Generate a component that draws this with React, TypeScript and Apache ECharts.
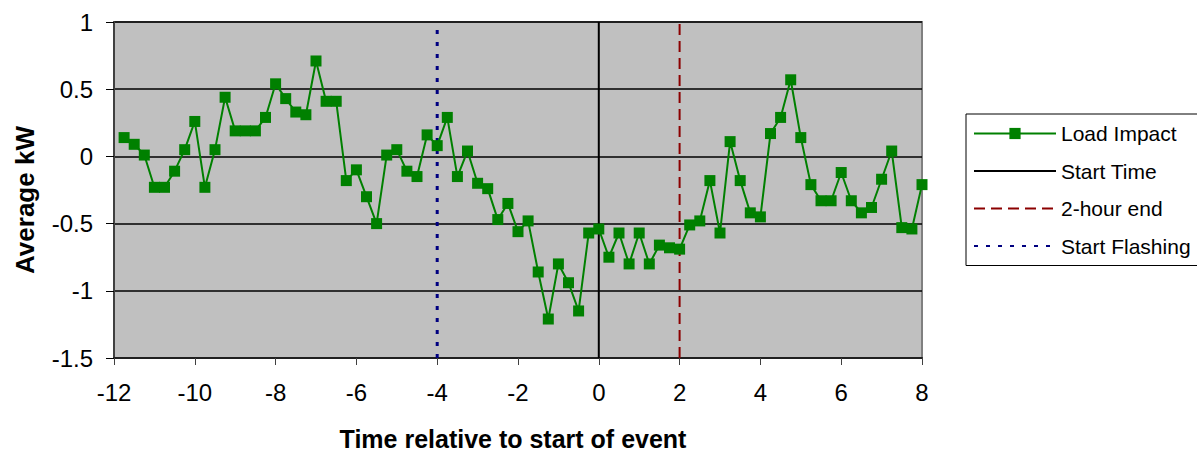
import React, { useEffect, useRef } from "react";
import * as echarts from "echarts";

const times = [
  -11.75, -11.5, -11.25, -11, -10.75, -10.5, -10.25, -10,
  -9.75, -9.5, -9.25, -9, -8.75, -8.5, -8.25, -8,
  -7.75, -7.5, -7.25, -7, -6.75, -6.5, -6.25, -6,
  -5.75, -5.5, -5.25, -5, -4.75, -4.5, -4.25, -4,
  -3.75, -3.5, -3.25, -3, -2.75, -2.5, -2.25, -2,
  -1.75, -1.5, -1.25, -1, -0.75, -0.5, -0.25, 0,
  0.25, 0.5, 0.75, 1, 1.25, 1.5, 1.75, 2,
  2.25, 2.5, 2.75, 3, 3.25, 3.5, 3.75, 4,
  4.25, 4.5, 4.75, 5, 5.25, 5.5, 5.75, 6,
  6.25, 6.5, 6.75, 7, 7.25, 7.5, 7.75, 8,
];

const loadImpact = [
  0.14, 0.09, 0.01, -0.23, -0.23, -0.11, 0.05, 0.26,
  -0.23, 0.05, 0.44, 0.19, 0.19, 0.19, 0.29, 0.54,
  0.43, 0.33, 0.31, 0.71, 0.41, 0.41, -0.18, -0.1,
  -0.3, -0.5, 0.01, 0.05, -0.11, -0.15, 0.16, 0.08,
  0.29, -0.15, 0.04, -0.2, -0.24, -0.47, -0.35, -0.56,
  -0.48, -0.86, -1.21, -0.8, -0.94, -1.15, -0.57, -0.54,
  -0.75, -0.57, -0.8, -0.57, -0.8, -0.66, -0.68, -0.69,
  -0.51, -0.48, -0.18, -0.57, 0.11, -0.18, -0.42, -0.45,
  0.17, 0.29, 0.57, 0.14, -0.21, -0.33, -0.33, -0.12,
  -0.33, -0.42, -0.38, -0.17, 0.04, -0.53, -0.54, -0.21,
];

const eventNames = ["Start Time", "2-hour end", "Start Flashing"];
const eventTimes = [0, 2, -4];
const eventColors = ["#000000", "#8B0000", "#000080"];

const xMin = -12;
const xMax = 8;
const xStep = 2;
const yMin = -1.5;
const yMax = 1;
const yStep = 0.5;

const FONT = "'Liberation Sans', Arial, sans-serif";

export default function App() {
  const ref = useRef<HTMLDivElement>(null);

  useEffect(() => {
    document.body.style.margin = "0";
    if (!ref.current) return;
    const chart = echarts.init(ref.current, undefined, { renderer: "svg" });

    const eventStyles = [
      { width: 2, type: "solid" as any },
      { width: 2, type: [11, 6] as any },
      { width: 3, type: [4, 8] as any },
    ];

    const eventSeries = eventNames.map((name, i) => ({
      name,
      type: "line",
      data: [
        [eventTimes[i], yMin],
        [eventTimes[i], yMax],
      ],
      symbol: "none",
      z: 2,
      lineStyle: { color: eventColors[i], ...eventStyles[i] },
      itemStyle: { color: "rgba(0,0,0,0)" },
      silent: true,
    }));

    chart.setOption({
      animation: false,
      textStyle: { fontFamily: FONT },
      grid: {
        left: 114,
        top: 22,
        width: 808,
        height: 336,
        show: true,
        containLabel: false,
        outerBoundsMode: "none",
        backgroundColor: "#C0C0C0",
        borderColor: "#808080",
        borderWidth: 2,
      },
      legend: {
        orient: "vertical",
        left: 966,
        top: 114,
        width: 225,
        padding: [9, 10, 9, 7],
        itemWidth: 82,
        itemHeight: 14,
        itemGap: 16.5,
        borderColor: "#000000",
        borderWidth: 1,
        backgroundColor: "#FFFFFF",
        data: [
          "Load Impact",
          ...eventNames.map((n) => ({ name: n, itemStyle: { opacity: 0 } })),
        ],
        textStyle: {
          fontFamily: FONT,
          fontSize: 21,
          color: "#000000",
          lineHeight: 21,
        },
      },
      xAxis: {
        type: "value",
        min: xMin,
        max: xMax,
        interval: xStep,
        name: "Time relative to start of event",
        nameLocation: "middle",
        nameGap: 68,
        nameTextStyle: {
          fontFamily: FONT,
          fontSize: 25,
          lineHeight: 25,
          fontWeight: "bold",
          color: "#000000",
          padding: [0, 10, 0, 0],
        },
        axisLine: { show: true, onZero: false, lineStyle: { color: "#202020", width: 2 } },
        axisTick: { show: true, inside: false, length: 7, lineStyle: { color: "#404040", width: 1 } },
        axisLabel: { fontFamily: FONT, fontSize: 24, color: "#000000", margin: 22 },
        splitLine: { show: false },
      },
      yAxis: {
        type: "value",
        min: yMin,
        max: yMax,
        interval: yStep,
        name: "Average kW",
        nameLocation: "middle",
        nameRotate: 90,
        nameGap: 76,
        nameTextStyle: {
          fontFamily: FONT,
          fontSize: 26,
          fontWeight: "bold",
          color: "#000000",
          padding: [0, 20, 0, 0],
        },
        axisLine: { show: true, onZero: false, lineStyle: { color: "#404040", width: 2 } },
        axisTick: { show: true, inside: false, length: 8, lineStyle: { color: "#000000", width: 1 } },
        axisLabel: { fontFamily: FONT, fontSize: 24, color: "#000000", margin: 21 },
        splitLine: { show: true, lineStyle: { color: "#000000", width: 1.5 } },
      },
      series: [
        {
          name: "Load Impact",
          type: "line",
          data: times.map((t, i) => [t, loadImpact[i]]),
          symbol: "rect",
          symbolSize: 11,
          showAllSymbol: true,
          z: 5,
          lineStyle: { color: "#008000", width: 2 },
          itemStyle: { color: "#008000" },
        },
        ...eventSeries,
      ],
    });

    return () => chart.dispose();
  }, []);

  return <div ref={ref} style={{ width: 1197, height: 453 }} />;
}
